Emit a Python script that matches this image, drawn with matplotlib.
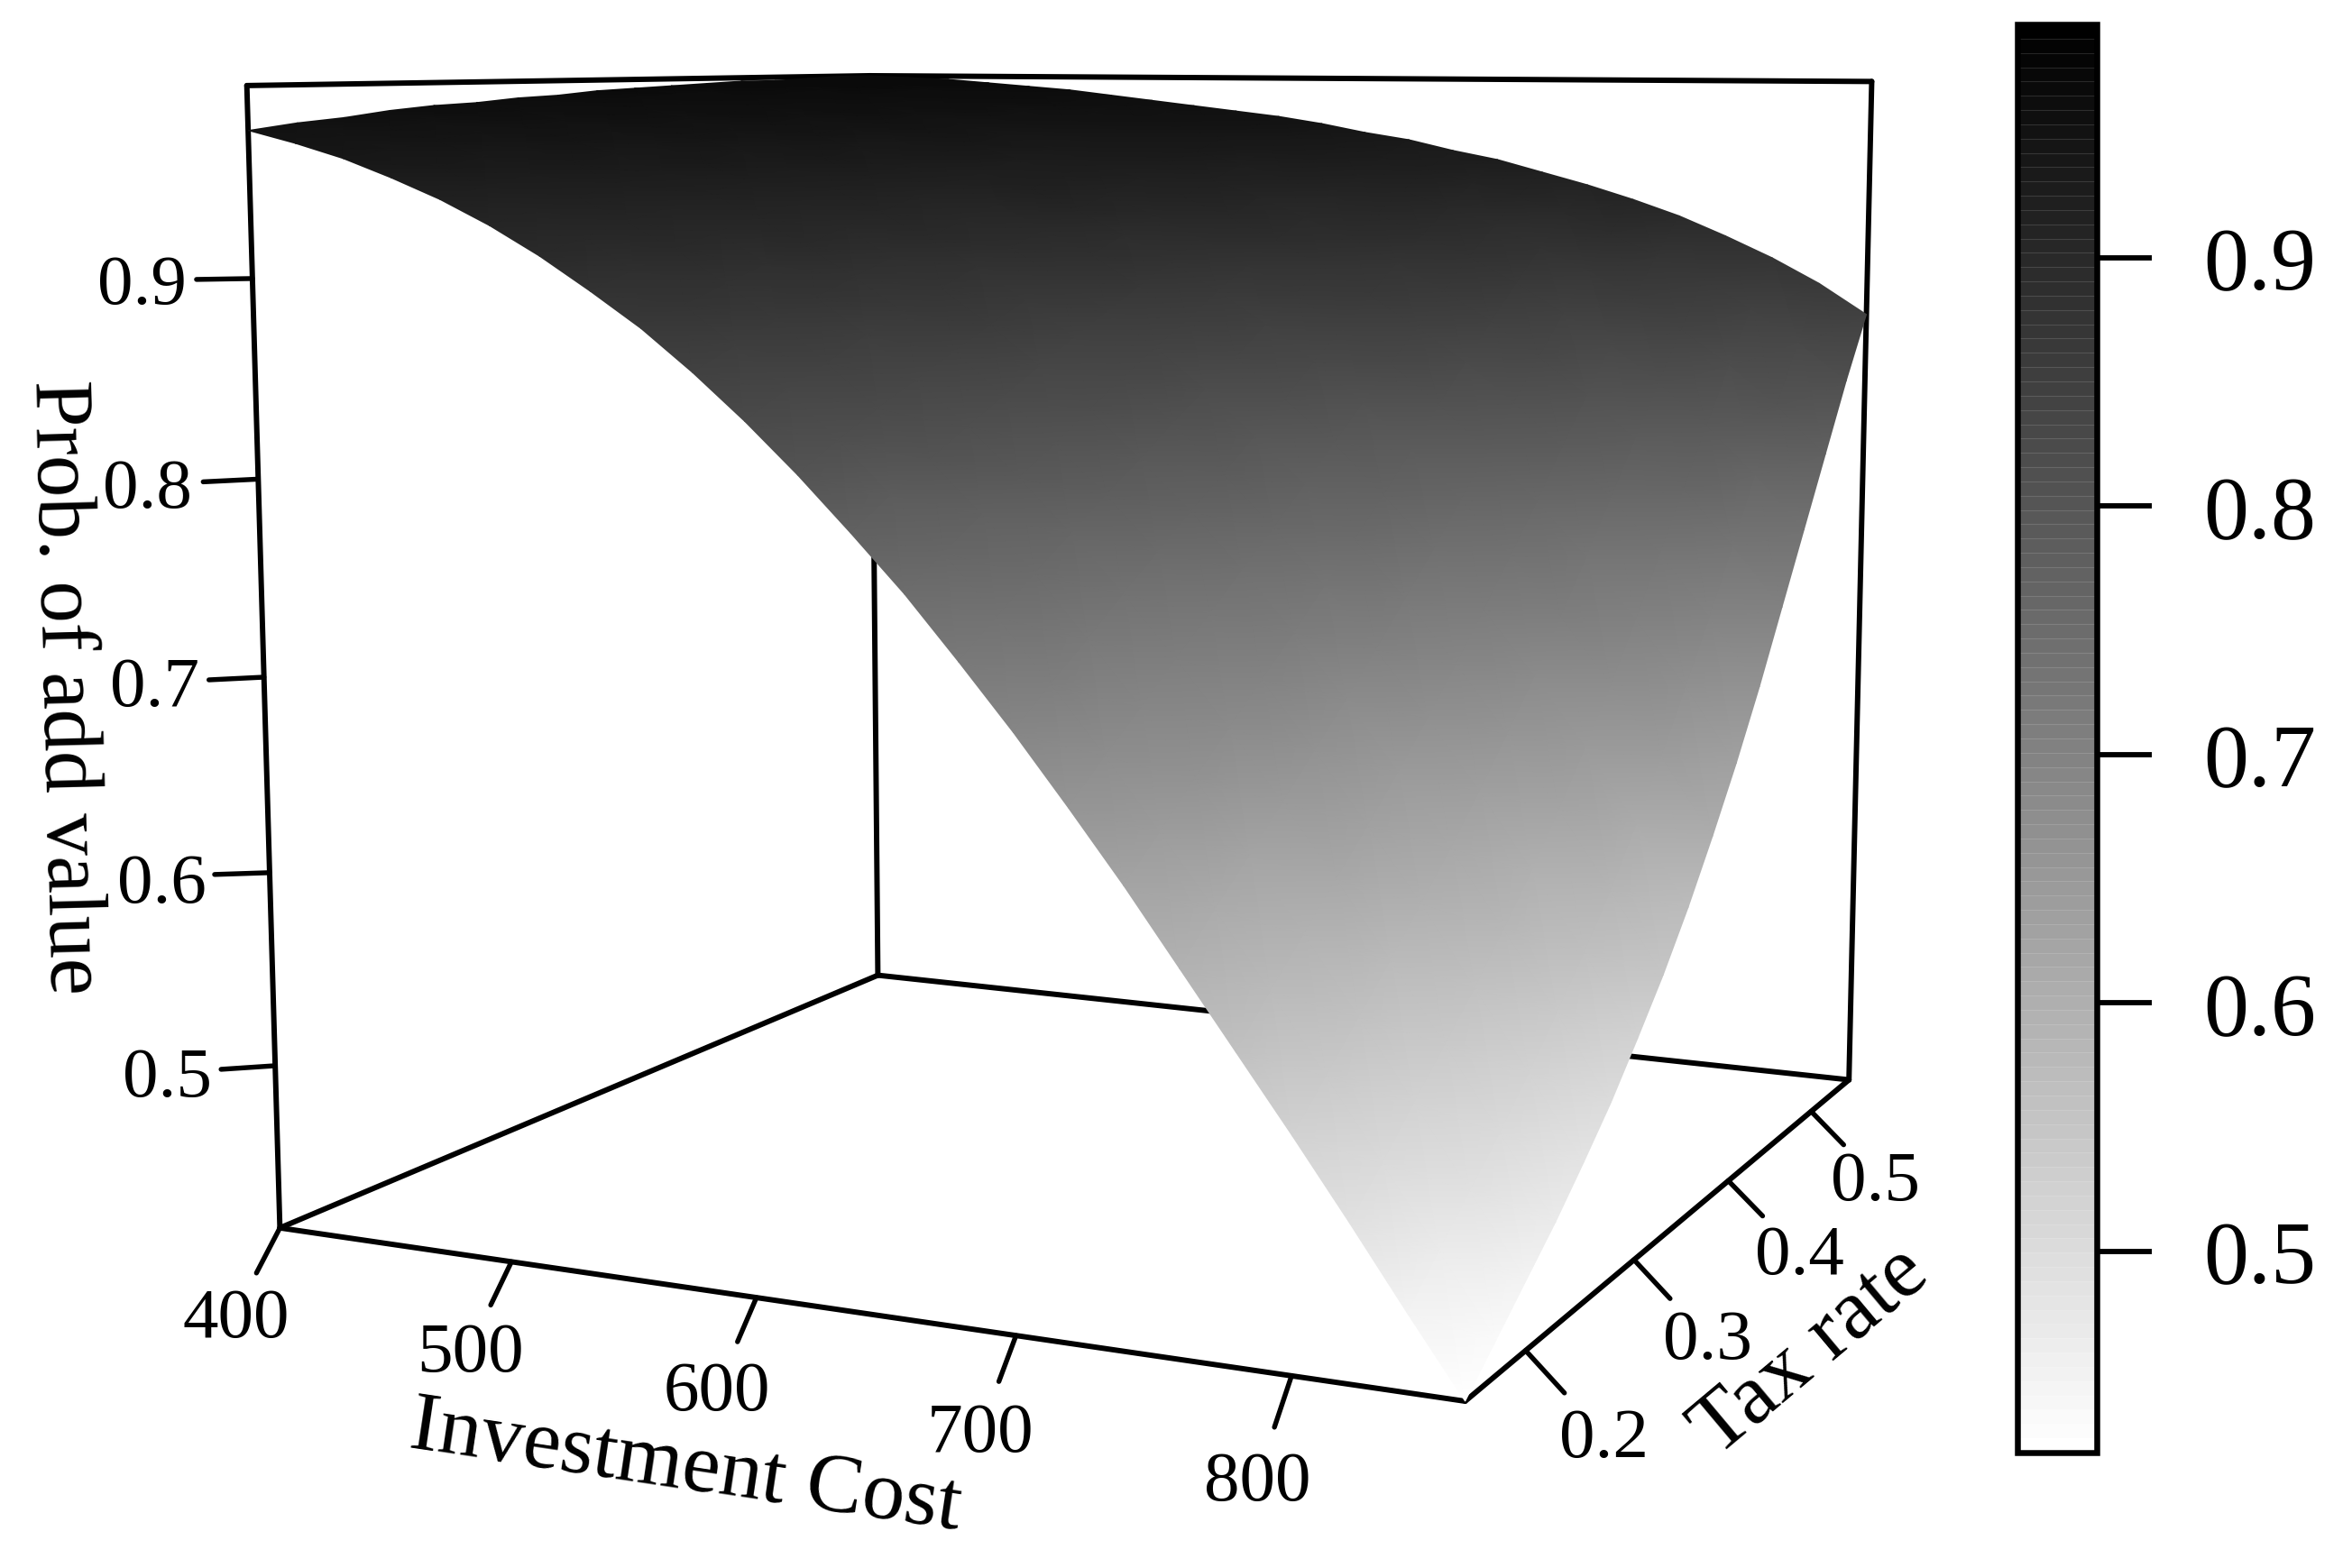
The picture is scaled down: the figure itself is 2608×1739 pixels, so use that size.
import numpy as np
import matplotlib
matplotlib.use("Agg")
import matplotlib.pyplot as plt
from matplotlib.colors import ListedColormap, Normalize
from matplotlib.cm import ScalarMappable

plt.rcParams['font.family'] = ['Liberation Serif', 'DejaVu Serif']

# ---------- data ----------
COST_GRID = [400, 420, 440, 460, 480, 500, 520, 540, 560, 580, 600, 620,
             640, 660, 680, 700, 720, 740, 760, 780, 800, 820, 840, 860]
TAX_GRID = [0.15, 0.175, 0.2, 0.225, 0.25, 0.275, 0.3, 0.325, 0.35,
            0.375, 0.4, 0.425, 0.45, 0.475, 0.5, 0.525, 0.55]
# probability of added value (thousandths), one row per tax rate
P_150 = [973,967,960,951,941,929,915,899,882,862,840,816,790,763,733,702,669,635,599,563,527,490,452,415]
P_175 = [976,970,963,955,946,935,922,907,891,872,852,829,804,778,749,719,687,653,619,583,546,508,470,432]
P_200 = [978,973,967,959,951,940,928,915,899,882,862,841,817,792,765,735,704,672,637,602,565,527,488,449]
P_225 = [981,976,970,963,955,945,934,922,907,891,873,852,830,806,780,752,722,690,656,621,584,546,506,466]
P_250 = [983,978,973,966,959,950,940,928,914,899,882,863,842,819,795,768,739,708,675,640,604,565,526,485]
P_275 = [984,980,975,970,963,954,945,934,922,907,892,874,854,833,809,784,756,726,694,660,624,586,547,505]
P_300 = [986,982,978,972,966,959,950,940,928,915,901,884,866,846,824,799,773,745,714,681,646,608,569,528]
P_325 = [987,984,980,975,969,962,954,945,935,923,909,894,877,859,838,815,791,764,735,703,669,632,593,552]
P_350 = [989,986,982,977,972,966,959,950,941,930,917,904,888,871,852,831,809,783,756,726,693,658,620,579]
P_375 = [990,987,984,980,975,969,963,955,946,937,926,913,899,884,867,848,827,803,778,750,719,685,649,609]
P_400 = [991,988,985,982,977,972,966,960,952,943,933,922,910,896,881,863,845,824,800,774,746,714,680,641]
P_425 = [992,990,987,984,980,975,970,964,957,949,941,931,920,908,894,879,862,844,823,800,774,745,712,676]
P_450 = [993,991,988,985,982,978,973,968,962,955,948,939,930,919,908,895,880,864,845,825,802,776,746,714]
P_475 = [993,992,989,987,984,980,976,972,967,961,954,947,939,930,920,909,897,883,867,850,830,807,781,752]
P_500 = [994,993,991,988,986,983,979,975,971,966,961,955,948,940,932,923,913,901,889,874,857,838,816,790]
P_525 = [995,993,992,990,987,985,982,979,975,971,966,961,956,950,943,936,928,919,908,896,883,867,849,828]
P_550 = [995,994,993,991,989,987,984,981,978,975,972,968,963,959,953,948,941,934,926,917,906,894,880,863]
P_ROWS = [P_150, P_175, P_200, P_225, P_250, P_275, P_300, P_325, P_350,
          P_375, P_400, P_425, P_450, P_475, P_500, P_525, P_550]

COST_TICKS = [400, 500, 600, 700, 800]
TAX_TICKS = [0.2, 0.3, 0.4, 0.5]
Z_TICKS = [0.9, 0.8, 0.7, 0.6, 0.5]
CB_TICKS = [0.5, 0.6, 0.7, 0.8, 0.9]
COST_LIM = (400, 860)
TAX_LIM = (0.15, 0.55)
Z_LIM = (0.415, 0.995)
CB_LIM = (0.419, 0.994)

# ---------- perspective camera, calibrated on the box and its ticks ----------
CAM_WORLD = [(400,.15,.415),(860,.15,.415),(860,.55,.415),(400,.55,.415),(400,.15,.995),(400,.55,.995),(860,.55,.995),
             (500,.15,.415),(600,.15,.415),(700,.15,.415),(800,.15,.415),
             (860,.2,.415),(860,.3,.415),(860,.4,.415),(860,.5,.415),
             (400,.15,.5),(400,.15,.6),(400,.15,.7),(400,.15,.8),(400,.15,.9)]
CAM_PIXEL = [(313,1363),(1624,1554),(2049,1198),(973,1083),(274,98),(965,85),(2076,91),
             (568,1403),(839,1443),(1126,1485),(1433,1525),
             (1692,1498),(1812,1398),(1916,1311),(2009,1234),
             (304,1179),(298,967),(292,751),(286,531),(279,311)]

def norm_world(w):
    w = np.asarray(w, float)
    return np.stack([(w[..., 0]-600)/300, (w[..., 1]-.35)/.2, (w[..., 2]-.7)/.3], -1)

def fit_camera():
    rows = []
    for (x, y, z), (u, v) in zip(norm_world(CAM_WORLD), CAM_PIXEL):
        u /= 1000; v /= 1000
        rows.append([x, y, z, 1, 0, 0, 0, 0, -u*x, -u*y, -u*z, -u])
        rows.append([0, 0, 0, 0, x, y, z, 1, -v*x, -v*y, -v*z, -v])
    return np.linalg.svd(np.array(rows))[2][-1].reshape(3, 4)

CAM = fit_camera()

def project(c, t, z):
    w = norm_world(np.stack(np.broadcast_arrays(c, t, z), -1))
    h = np.concatenate([w, np.ones(w.shape[:-1]+(1,))], -1) @ CAM.T
    return 1000*h[..., 0]/h[..., 2], 1000*h[..., 1]/h[..., 2]

# ---------- figure ----------
W, H = 2608, 1740
fig = plt.figure(figsize=(W/100, H/100), dpi=100, facecolor='white')
ax = fig.add_axes([0, 0, 1, 1])
ax.set_xlim(0, W); ax.set_ylim(H, 0); ax.axis('off')

cmap = ListedColormap(np.repeat(np.linspace(1, 0, 100)[:, None], 3, axis=1))
surf_cmap = ListedColormap(np.repeat(np.linspace(1, 0.04, 100)[:, None], 3, axis=1))
norm = Normalize(*CB_LIM)

LW = 4.3
TLW = 3.9
c0, c1 = COST_LIM; t0, t1 = TAX_LIM; z0, z1 = Z_LIM
BOX_EDGES = [((c0,t0,z0),(c1,t0,z0)), ((c1,t0,z0),(c1,t1,z0)), ((c1,t1,z0),(c0,t1,z0)), ((c0,t1,z0),(c0,t0,z0)),
             ((c0,t0,z0),(c0,t0,z1)), ((c0,t1,z0),(c0,t1,z1)), ((c1,t1,z0),(c1,t1,z1)),
             ((c0,t0,z1),(c0,t1,z1)), ((c0,t1,z1),(c1,t1,z1))]
for a, b in BOX_EDGES:
    xa, ya = project(*a); xb, yb = project(*b)
    ax.plot([xa, xb], [ya, yb], color='k', lw=LW, solid_capstyle='round', zorder=1)

Cg, Tg = np.meshgrid(COST_GRID, TAX_GRID)
PROB = np.array(P_ROWS) / 1000
PX, PY = project(Cg, Tg, PROB)
ax.pcolormesh(PX, PY, PROB, shading='gouraud', cmap=surf_cmap, norm=norm, zorder=2)

TS = 57
def draw_ticks(points, labels, tick_off, lab_off):
    for (x, y), s, to, lo in zip(points, labels, tick_off, lab_off):
        ax.plot([x, x+to[0]], [y, y+to[1]], color='k', lw=TLW, solid_capstyle='round', zorder=3)
        ax.text(x+lo[0], y+lo[1], s, ha='center', va='center', fontsize=TS)

draw_ticks([project(v, t0, z0) for v in COST_TICKS], [str(v) for v in COST_TICKS],
           [(-26,50),(-23,48),(-21,49),(-19,51),(-19,57)],
           [(-49,101),(-46,102),(-44,105),(-40,109),(-38,118)])
draw_ticks([project(c1, v, z0) for v in TAX_TICKS], [f"{v:.1f}" for v in TAX_TICKS],
           [(43,47),(40,43),(38,39),(36,37)],
           [(87,98),(82,90),(79,84),(71,79)])
draw_ticks([project(c0, t0, v) for v in Z_TICKS], [f"{v:.1f}" for v in Z_TICKS],
           [(-62,1),(-61,3),(-61,3),(-61,2),(-60,4)],
           [(-122,8),(-123,12),(-121,12),(-120,13),(-120,14)])

ax.text(760, 1628, "Investment Cost", rotation=-8.5, rotation_mode='anchor', ha='center', va='center', fontsize=68)
ax.text(2008, 1500, "Tax rate", rotation=40, rotation_mode='anchor', ha='center', va='center', fontsize=69)
ax.text(70, 762, "Prob. of add value", rotation=-88.5, rotation_mode='anchor', ha='center', va='center', fontsize=67)

cax = fig.add_axes([2236.5/W, 1-1612/H, (2325-2236.5)/W, (1612-28)/H])
cb = fig.colorbar(ScalarMappable(norm=norm, cmap=cmap), cax=cax, ticks=CB_TICKS)
cb.outline.set_linewidth(4.7); cb.outline.set_color('k')
cb.ax.tick_params(length=44, width=4.2, labelsize=72, pad=41, color='k')
band_edges = np.linspace(*CB_LIM, 101)[1:-1]
cb.ax.hlines(band_edges, 0, 1, transform=cb.ax.get_yaxis_transform(), colors='w', alpha=.13, lw=.8)

fig.savefig('out.png', dpi=100)
